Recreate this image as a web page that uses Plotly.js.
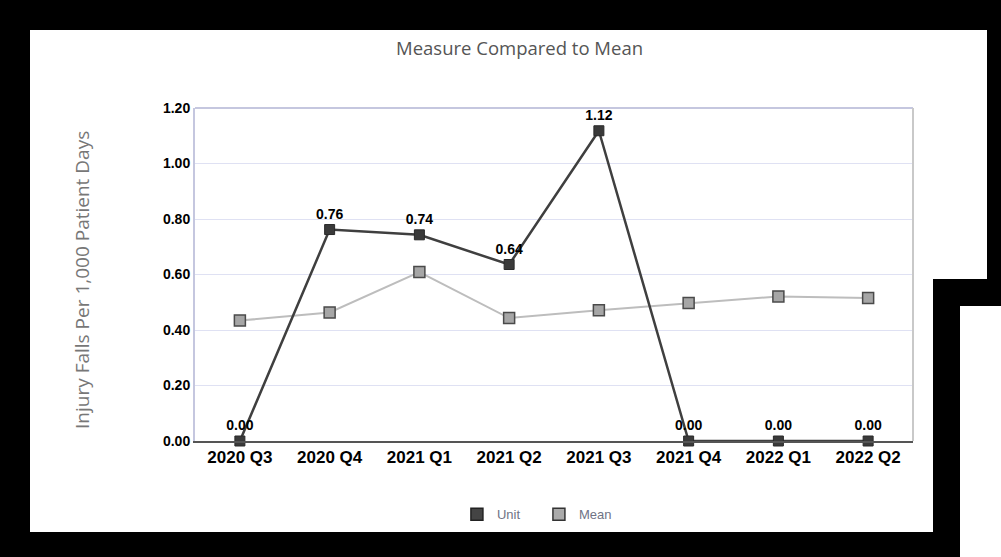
<!DOCTYPE html>
<html>
<head>
<meta charset="utf-8">
<script src="https://cdn.plot.ly/plotly-3.0.1.min.js"></script>
<style>
html,body{margin:0;padding:0;background:#000;width:1001px;height:557px;overflow:hidden;position:relative;}
.w{position:absolute;background:#fff;}
#chart{position:absolute;left:0;top:0;width:1001px;height:557px;}
</style>
</head>
<body>
<div class="w" style="left:30px;top:30px;width:957px;height:249px;"></div>
<div class="w" style="left:30px;top:279px;width:903px;height:253px;"></div>
<div class="w" style="left:960px;top:306px;width:41px;height:251px;"></div>
<div id="chart"></div>
<script>
const categories = ["2020 Q3","2020 Q4","2021 Q1","2021 Q2","2021 Q3","2021 Q4","2022 Q1","2022 Q2"];
const unitValues = [0.00, 0.762, 0.743, 0.636, 1.118, 0.00, 0.00, 0.00];
const meanValues = [0.434, 0.463, 0.609, 0.443, 0.471, 0.497, 0.521, 0.515];
const yTickVals = [0, 0.2, 0.4, 0.6, 0.8, 1.0, 1.2];
const seriesNames = ["Unit", "Mean"];
const yAxisTitle = "Injury Falls Per 1,000 Patient Days";

const boldFont = {family: "Liberation Sans, Arial, sans-serif", weight: "bold", color: "#000"};

const traces = [
  {
    x: categories, y: meanValues, type: "scatter", mode: "lines+markers",
    name: seriesNames[1], showlegend: false, cliponaxis: false,
    line: {color: "#bdbdbd", width: 2},
    marker: {symbol: "square", size: 11, color: "#a6a6a6", line: {color: "#4a4a4a", width: 1.5}},
    hoverinfo: "x+y"
  },
  {
    x: categories, y: unitValues, type: "scatter", mode: "lines+markers+text",
    name: seriesNames[0], showlegend: false, cliponaxis: false,
    line: {color: "#3f3f3f", width: 2.5},
    marker: {symbol: "square", size: 10, color: "#3a3a3a", line: {color: "#2a2a2a", width: 1}},
    text: unitValues, texttemplate: "%{y:.2f}", textposition: "top center",
    textfont: Object.assign({size: 14}, boldFont),
    hoverinfo: "x+y"
  },
  {
    x: [null], y: [null], type: "scatter", mode: "markers", name: seriesNames[0],
    marker: {symbol: "square", size: 12, color: "#444", line: {color: "#222", width: 1.5}}
  },
  {
    x: [null], y: [null], type: "scatter", mode: "markers", name: seriesNames[1],
    marker: {symbol: "square", size: 12, color: "#aaa", line: {color: "#333", width: 1.5}}
  }
];

const layout = {
  width: 1001, height: 557,
  paper_bgcolor: "rgba(0,0,0,0)", plot_bgcolor: "#fff",
  margin: {l: 195, r: 88, t: 108, b: 116},
  title: {text: "Measure Compared to Mean", x: 0.519, xanchor: "center", y: 0.913, yanchor: "middle",
          font: {family: "Open Sans, Noto Sans, sans-serif", size: 18.5, color: "#555"}},
  xaxis: {
    type: "category", categoryorder: "array", categoryarray: categories,
    range: [-0.5, 7.5], showgrid: false, zeroline: false,
    showline: true, linecolor: "#555", linewidth: 2,
    tickfont: Object.assign({size: 17}, boldFont), ticks: "", fixedrange: true
  },
  yaxis: {
    range: [0, 1.2], tickvals: yTickVals, tickformat: ".2f",
    showgrid: true, gridcolor: "#dfe1f3", gridwidth: 1, zeroline: false,
    showline: true, linecolor: "#c5c7df", linewidth: 2,
    tickfont: Object.assign({size: 14}, boldFont), ticks: "", fixedrange: true
  },
  annotations: [
    {text: yAxisTitle, xref: "paper", yref: "paper", x: -0.1574, y: 0.4835,
     xanchor: "center", yanchor: "middle", textangle: -90, showarrow: false,
     font: {family: "Open Sans, Noto Sans, sans-serif", size: 19, color: "#777"}}
  ],
  shapes: [
    {type: "line", xref: "paper", yref: "paper", x0: 0, x1: 1, y0: 1, y1: 1, line: {color: "#c5c7df", width: 2}},
    {type: "line", xref: "paper", yref: "paper", x0: 1, x1: 1, y0: 0, y1: 1, line: {color: "#c9c9c9", width: 2}}
  ],
  legend: {orientation: "h", x: 0.479, xanchor: "center", y: -0.22, yanchor: "middle",
           font: {family: "Liberation Sans, Arial, sans-serif", size: 13, color: "#6f7385"},
           bgcolor: "rgba(0,0,0,0)", itemwidth: 30, entrywidth: 37, entrywidthmode: "pixels"},
  showlegend: true
};

Plotly.newPlot("chart", traces, layout, {displayModeBar: false, staticPlot: true});
</script>
</body>
</html>
